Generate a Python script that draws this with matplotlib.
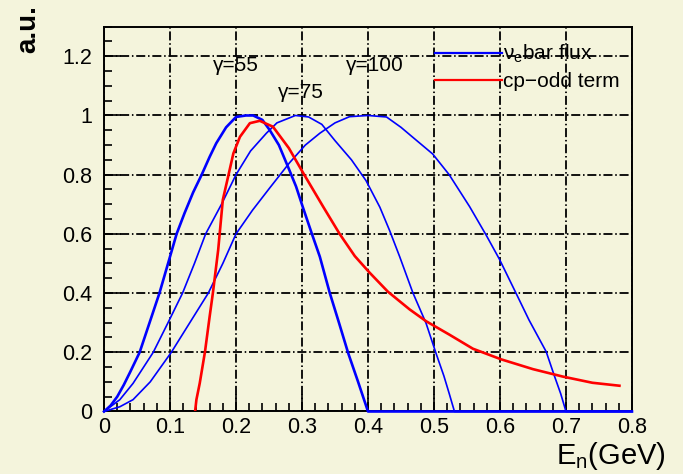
import matplotlib.pyplot as plt
from matplotlib.ticker import MultipleLocator

plt.rcParams.update({
    'font.family': ['Liberation Sans', 'DejaVu Sans'],
    'mathtext.fontset': 'custom',
    'mathtext.rm': 'Liberation Sans',
    'mathtext.it': 'Liberation Sans:italic',
    'lines.scale_dashes': False,
})

BG = '#f4f4dc'

# neutrino flux curves (x in GeV, y in a.u.)
e_g55 = [0, 0.01, 0.02, 0.03, 0.04, 0.054, 0.069, 0.084, 0.097, 0.110, 0.122, 0.135,
         0.148, 0.16, 0.17, 0.185, 0.2, 0.215, 0.226, 0.24, 0.251, 0.265, 0.28,
         0.291, 0.301, 0.315, 0.327, 0.342, 0.356, 0.37, 0.385, 0.4, 0.8]
f_g55 = [0, 0.02, 0.05, 0.09, 0.135, 0.2, 0.3, 0.4, 0.5, 0.6, 0.67, 0.74,
         0.8, 0.86, 0.906, 0.96, 0.995, 1.0, 1.0, 0.985, 0.951, 0.9, 0.82,
         0.76, 0.692, 0.6, 0.523, 0.401, 0.3, 0.197, 0.1, 0, 0]

e_g75 = [0, 0.024, 0.044, 0.0746, 0.097, 0.119, 0.137, 0.154, 0.178, 0.2, 0.222,
         0.246, 0.262, 0.29, 0.31, 0.33, 0.35, 0.375, 0.397, 0.418, 0.433,
         0.448, 0.468, 0.488, 0.503, 0.515, 0.523, 0.531, 0.8]
f_g75 = [0, 0.04, 0.095, 0.2, 0.3, 0.4, 0.5, 0.6, 0.7, 0.8, 0.88,
         0.94, 0.975, 1.0, 0.995, 0.97, 0.915, 0.85, 0.78, 0.69, 0.61,
         0.523, 0.401, 0.298, 0.197, 0.12, 0.061, 0, 0]

e_g100 = [0, 0.024, 0.044, 0.07, 0.102, 0.13, 0.158, 0.18, 0.2, 0.225, 0.251,
          0.281, 0.305, 0.327, 0.35, 0.372, 0.4, 0.428, 0.45, 0.467, 0.498,
          0.523, 0.554, 0.579, 0.599, 0.624, 0.644, 0.670, 0.682, 0.692, 0.70, 0.8]
f_g100 = [0, 0.016, 0.04, 0.1, 0.2, 0.3, 0.4, 0.5, 0.6, 0.68, 0.755,
          0.84, 0.9, 0.94, 0.975, 0.996, 1.0, 0.995, 0.96, 0.928, 0.87,
          0.8, 0.692, 0.596, 0.515, 0.401, 0.309, 0.202, 0.123, 0.06, 0, 0]

# cp-odd term
e_cp = [0.138, 0.140, 0.145, 0.153, 0.160, 0.165, 0.173, 0.180, 0.188, 0.196,
        0.206, 0.221, 0.236, 0.256, 0.28, 0.302, 0.332, 0.357, 0.38, 0.402,
        0.430, 0.463, 0.488, 0.523, 0.559, 0.602, 0.650, 0.695, 0.740, 0.781]
f_cp = [0, 0.04, 0.095, 0.202, 0.32, 0.401, 0.546, 0.715, 0.793, 0.872,
        0.928, 0.974, 0.982, 0.962, 0.89, 0.805, 0.692, 0.60, 0.525, 0.47,
        0.405, 0.345, 0.305, 0.26, 0.212, 0.176, 0.143, 0.118, 0.097, 0.087]

gamma_labels = ['γ=55', 'γ=75', 'γ=100']
gamma_pos = [(0.2, 1.17), (0.299, 1.076), (0.411, 1.17)]

fig = plt.figure(figsize=(6.83, 4.74), dpi=100, facecolor=BG)
ax = fig.add_axes([0.1523, 0.1319, 0.7730, 0.8118], facecolor=BG)

ln55, = ax.plot(e_g55, f_g55, color='#0000ff', lw=1.9, clip_on=False, zorder=5)
ln75, = ax.plot(e_g75, f_g75, color='#0000ff', lw=1.2, clip_on=False, zorder=5)
ax.plot(e_g100, f_g100, color='#0000ff', lw=1.2, clip_on=False, zorder=5)
lncp, = ax.plot(e_cp, f_cp, color='#ff0000', lw=1.9, zorder=6)

ax.set_xlim(0, 0.8)
ax.set_ylim(0, 1.3)
ax.xaxis.set_major_locator(MultipleLocator(0.1))
ax.xaxis.set_minor_locator(MultipleLocator(0.02))
ax.yaxis.set_major_locator(MultipleLocator(0.2))
ax.yaxis.set_minor_locator(MultipleLocator(0.05))
ax.xaxis.set_major_formatter(lambda v, p: f'{v:g}')
ax.yaxis.set_major_formatter(lambda v, p: f'{v:g}')
ax.tick_params(which='both', direction='in', top=False, right=False,
               labelsize=15.5, color='black', width=1.2)
ax.tick_params(axis='y', which='major', length=12, pad=8.5)
ax.tick_params(axis='x', which='major', length=12, pad=4)
ax.tick_params(which='minor', length=6)

ax.grid(True, which='major', color='black', lw=1.3, linestyle=(0, (6.5, 2, 1.1, 2)))
ax.set_axisbelow(True)
for s in ax.spines.values():
    s.set_linewidth(1.4)

for txt, (x, y) in zip(gamma_labels, gamma_pos):
    ax.text(x, y, txt, ha='center', va='center', fontsize=15)

leg = ax.legend([ln75, lncp], ['ν$_\\mathregular{e}$bar flux', 'cp−odd term'],
                loc='upper left', bbox_to_anchor=(0.627, 0.958), frameon=False,
                fontsize=15, handlelength=3.2, handletextpad=0.05,
                borderpad=0, borderaxespad=0, labelspacing=0.35)
for h in leg.get_lines():
    h.set_linewidth(1.6)

fig.text(0.041, 0.989, 'a.u.', rotation=90, ha='center', va='top',
         fontsize=20, fontweight='bold')
fig.text(0.975, 0.004, 'E$_\\mathregular{n}$(GeV)', ha='right', va='bottom',
         fontsize=21)

fig.savefig('out.png', dpi=100, facecolor=BG)
